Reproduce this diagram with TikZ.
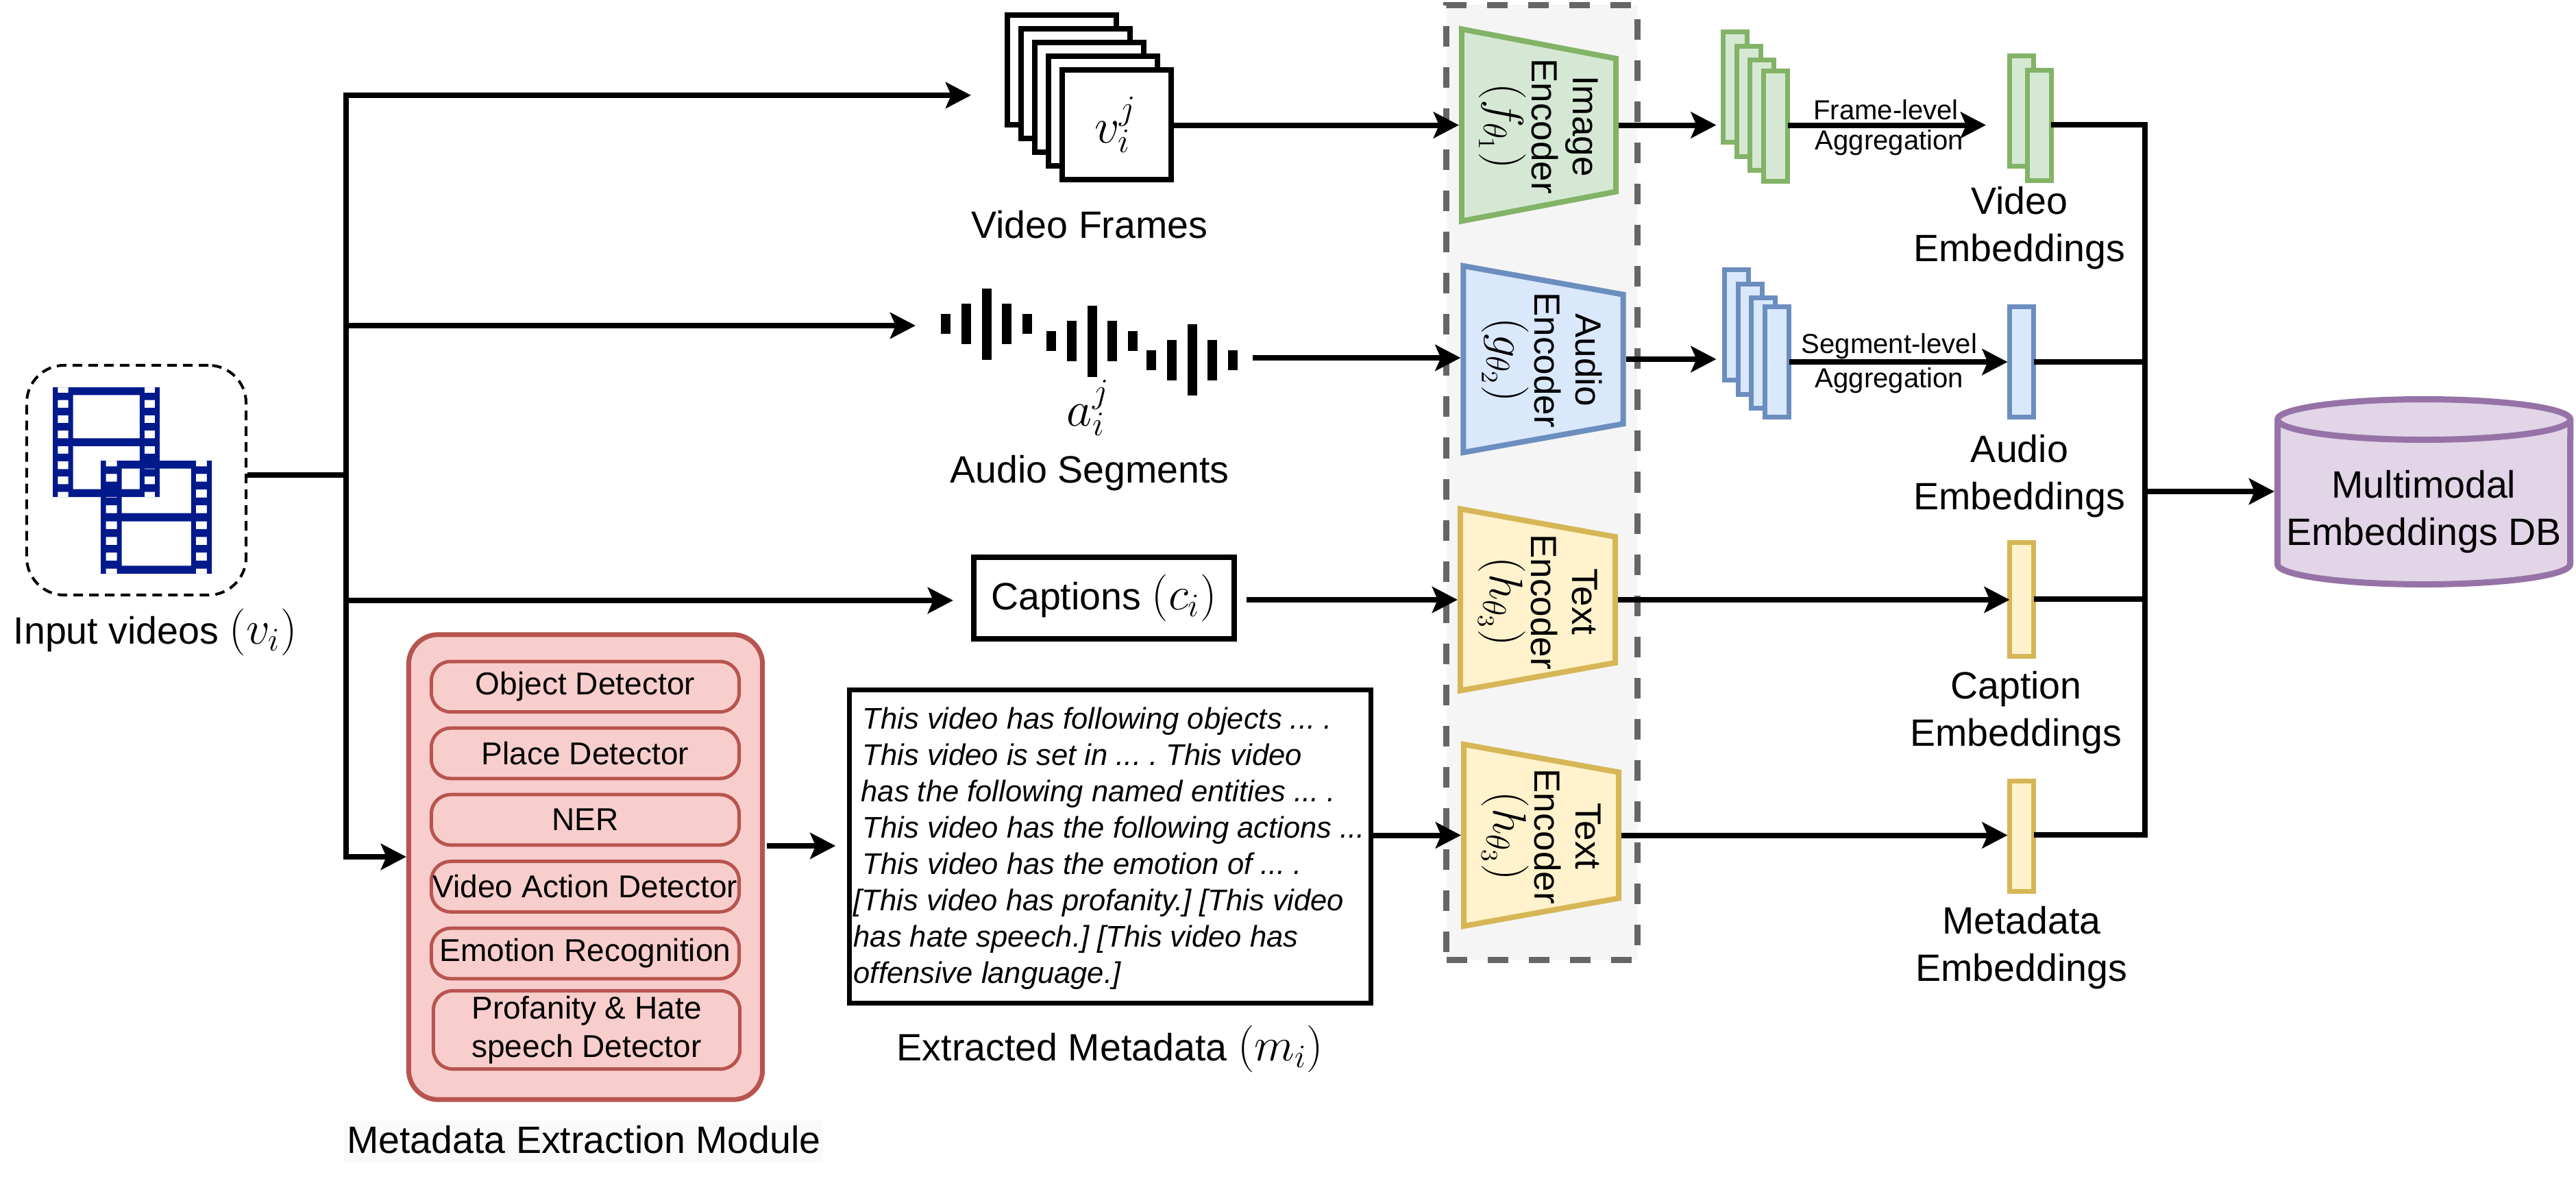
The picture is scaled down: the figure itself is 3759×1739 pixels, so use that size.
\documentclass[tikz,border=0pt]{standalone}
\usepackage{fix-cm}
\usepackage[no-math]{fontspec}
\setmainfont{Liberation Sans}
\usetikzlibrary{arrows.meta,shapes.geometric}
\definecolor{filmblue}{HTML}{001A8C}
\definecolor{grnline}{HTML}{82B366}\definecolor{grnfill}{HTML}{D5E8D4}
\definecolor{blueline}{HTML}{6C8EBF}\definecolor{bluefill}{HTML}{DAE8FC}
\definecolor{yelline}{HTML}{D6B656}\definecolor{yelfill}{HTML}{FFF2CC}
\definecolor{redline}{HTML}{B85450}\definecolor{redfill}{HTML}{F8CECC}
\definecolor{purline}{HTML}{9673A6}\definecolor{purfill}{HTML}{E1D5E7}
\def\mainfs{\fontsize{15.8}{19.6}\selectfont}
\def\encfs{\fontsize{15.1}{17}\selectfont}
\def\smallfs{\fontsize{11.4}{14}\selectfont}
\def\modfs{\fontsize{13.1}{15.9}\selectfont}
\def\metafs{\fontsize{12.38}{15.08}\selectfont\frenchspacing}
\def\bigmath{\fontsize{20.5}{24}\selectfont}
\newcommand\lmath[1]{{\fontsize{19.5}{19.5}\selectfont$#1$}}
% film strip: left, top, width, height
\newcommand\filmicon[4]{
	\begin{scope}[shift={(#1,#2)},x=#3,y=-#4]
		\fill[filmblue,even odd rule] (0,0) rectangle (1,1)
			(.189,.071) rectangle (.813,.464)
			(.189,.536) rectangle (.813,.929)
			foreach \ya/\yb in {0/.05,.117/.186,.255/.326,.395/.464,.536/.605,.674/.745,.812/.883,.954/1}{
				(.047,\ya) rectangle (.145,\yb)
				(.857,\ya) rectangle (.956,\yb)
			};
	\end{scope}
}
\tikzset{
	line/.style={line width=.08cm},
	conn/.style={line width=.08cm,-{Stealth[length=.37cm,width=.38cm,inset=.08cm]}},
	lab/.style={font=\mainfs,inner sep=0,align=center},
	encoder/.style n args={2}{trapezium,draw=#1,fill=#2,line width=.08cm,rotate=-90,inner sep=0,
		trapezium angle=75,trapezium stretches=true},
	enctxt/.style={font=\encfs,rotate=-90,align=center,inner sep=0},
	featbox/.style n args={2}{draw=#1,fill=#2,line width=.07cm,minimum width=.35cm,minimum height=1.61cm,inner sep=0,outer sep=0,anchor=north west},
	modbox/.style={draw=redline,fill=redfill,line width=.05cm,rounded corners=.28cm,font=\modfs,align=center,inner sep=0,minimum width=4.49cm},
	framebox/.style={draw,fill=white,line width=.08cm,minimum width=1.59cm,minimum height=1.6cm,anchor=north west,inner sep=0,outer sep=0},
	dbshape/.style={draw=purline,fill=purfill,line width=.09cm}
}
\begin{document}
\begin{tikzpicture}[x=.01cm,y=-.01cm,line join=miter]
	\useasboundingbox (0,0) rectangle (3759,1739);
	% encoder group
	\node[draw=black!60,fill=black!4,line width=.09cm,dash pattern=on .3cm off .3cm,minimum width=2.78cm,minimum height=13.93cm,inner sep=0] (encgroup) at (2250,704) {};
	% input
	\node[draw,dash pattern=on .14cm off .09cm,line width=.04cm,rounded corners=.55cm,minimum width=3.2cm,minimum height=3.35cm,inner sep=0] (inbox) at (199,700.5) {};
	\filmicon{77}{565}{1.56cm}{1.60cm}
	\filmicon{147}{672}{1.62cm}{1.65cm}
	\node[lab,anchor=base west] (inlab) at (19,939) {Input videos \lmath{(v_i)}};
	% frames
	\foreach \k in {0,...,4}{
		\node[framebox] (frame\k) at (1470+20*\k,22+20*\k) {};
	}
	\node[inner sep=0,font=\bigmath] (framevar) at (1628,182) {$v_i^j$};
	\node[lab,anchor=base] (framelab) at (1590,347) {Video Frames};
	% audio wave
	\foreach \gx/\gy in {1380/472.5,1534/497.5,1680/525}{
		\foreach \k/\h in {0/14.5,1/29.5,2/52,3/29.5,4/14.5}{
			\fill (\gx+\k*29.8-7,\gy-\h) rectangle (\gx+\k*29.8+7,\gy+\h);
		}
	}
	\node[inner sep=0,font=\bigmath] (wavevar) at (1588,595) {$a_i^j$};
	\node[lab,anchor=base] (wavelab) at (1590,704) {Audio Segments};
	% captions
	\node[draw,line width=.08cm,minimum width=3.8cm,minimum height=1.19cm,font=\mainfs,inner sep=0] (capbox) at (1611,872.5) {Captions \lmath{(c_i)}};
	% metadata module
	\node[draw=redline,fill=redfill,line width=.07cm,rounded corners=.43cm,minimum width=5.16cm,minimum height=6.78cm,inner sep=0] (module) at (854.5,1265) {};
	\foreach \k/\y/\txt in {1/1001.8/Object Detector,2/1099/Place Detector,3/1196/NER,4/1293.5/Video Action Detector,5/1391/Emotion Recognition}{
		\node[modbox,minimum height=.735cm] (mod\k) at (854,\y) {\txt};
	}
	\node[modbox,minimum height=1.14cm,minimum width=4.47cm] (mod6) at (856,1502.5) {Profanity \& Hate\\speech Detector};
	\node[fill=black!2,minimum width=6.99cm,minimum height=.61cm,inner sep=0] (modbg) at (851.5,1665) {};
	\node[lab,anchor=base] (modlab) at (852,1682) {Metadata Extraction Module};
	% metadata text
	\node[draw,line width=.07cm,minimum width=7.6cm,minimum height=4.565cm,inner sep=0] (metabox) at (1620,1235) {};
	\node[anchor=north west,inner sep=0,align=left,font=\metafs\itshape] (metatxt) at (1245,1031) {%
		\hspace*{.13cm}This video has following objects ... .\\
		\hspace*{.13cm}This video is set in ... . This video\\
		\hspace*{.11cm}has the following named entities ... .\\
		\hspace*{.13cm}This video has the following actions ...\\
		\hspace*{.13cm}This video has the emotion of ... .\\
		{[}This video has profanity.] [This video\\
		has hate speech.] [This video has\\
		offensive language.]};
	\node[lab,anchor=base] (metalab) at (1620,1547) {Extracted Metadata \lmath{(m_i)}};
	% encoders
	\node[encoder={grnline}{grnfill},minimum width=2.8cm,minimum height=2.25cm] (imgenc) at (2245.5,182.5) {\phantom{M}};
	\node[enctxt] (imgtxt) at (2245,184) {Image\\Encoder\\\lmath{(f_{\theta_1})}};
	\node[encoder={blueline}{bluefill},minimum width=2.72cm,minimum height=2.33cm] (audenc) at (2252,524) {\phantom{M}};
	\node[enctxt] (audtxt) at (2250,525) {Audio\\Encoder\\\lmath{(g_{\theta_2})}};
	\node[encoder={yelline}{yelfill},minimum width=2.65cm,minimum height=2.26cm] (capenc) at (2244,875) {\phantom{M}};
	\node[enctxt] (captxt) at (2244,878) {Text\\Encoder\\\lmath{(h_{\theta_3})}};
	\node[encoder={yelline}{yelfill},minimum width=2.65cm,minimum height=2.26cm] (metaenc) at (2249,1218.5) {\phantom{M}};
	\node[enctxt] (metaenctxt) at (2249,1220) {Text\\Encoder\\\lmath{(h_{\theta_3})}};
	% features
	\foreach \k/\x/\y in {1/2514.5/46.5,2/2534.5/67,3/2553.5/87.5,4/2573.5/103}{
		\node[featbox={grnline}{grnfill}] (imgfeat\k) at (\x,\y) {};
	}
	\foreach \k/\x/\y in {1/2516.5/393.5,2/2536.5/414,3/2555.5/434.5,4/2575.5/447.5}{
		\node[featbox={blueline}{bluefill}] (audfeat\k) at (\x,\y) {};
	}
	\node[featbox={grnline}{grnfill}] (videmba) at (2932,81) {};
	\node[featbox={grnline}{grnfill}] (vidembb) at (2958,102.5) {};
	\node[featbox={blueline}{bluefill}] (audemb) at (2932.5,447.5) {};
	\node[featbox={yelline}{yelfill},minimum height=1.66cm] (capemb) at (2932.5,791) {};
	\node[featbox={yelline}{yelfill}] (metaemb) at (2932.5,1139) {};
	\node[lab] (vidlab) at (2947,333) {Video\\Embeddings};
	\node[lab] (audlab) at (2947,695) {Audio\\Embeddings};
	\node[lab] (caplab) at (2942,1040) {Caption\\Embeddings};
	\node[lab] (metaemblab) at (2950,1382.5) {Metadata\\Embeddings};
	\node[lab,font=\smallfs,anchor=center] (framelvl) at (2752,160) {Frame-level};
	\node[lab,font=\smallfs,anchor=center] (framelvlb) at (2757,208) {Aggregation};
	\node[lab,font=\smallfs,anchor=center] (seglvl) at (2757,505) {Segment-level};
	\node[lab,font=\smallfs,anchor=center] (seglvlb) at (2757,555) {Aggregation};
	% database
	\def\dbx{2.135cm} \def\dby{.295cm}
	\node[minimum width=4.27cm,minimum height=2.7cm,inner sep=0,outer sep=.045cm] (db) at (3537,717) {};
	\draw[dbshape] (3323.5,612) arc[start angle=180,end angle=0,x radius=\dbx,y radius=\dby] -- (3750.5,823) arc[start angle=0,end angle=-180,x radius=\dbx,y radius=\dby] -- cycle;
	\draw[dbshape] (3323.5,612) arc[start angle=180,end angle=360,x radius=\dbx,y radius=\dby];
	\node[lab] (dblab) at (3537,747) {Multimodal\\Embeddings DB};
	% connectors
	\coordinate (tvideo) at (505,139);
	\coordinate (taudio) at (505,475);
	\coordinate (tsplit) at (505,693);
	\coordinate (tcap) at (505,876);
	\coordinate (tmeta) at (505,1250);
	\coordinate (framesin) at (1417,139);
	\coordinate (wavesin) at (1336,475);
	\coordinate (wavesout) at (1828,522);
	\coordinate (modout) at (1119,1234);
	\coordinate (bustop) at (3130,182);
	\coordinate (busbot) at (3130,1218);
	\draw[line] (inbox.east |- tsplit) -- (tsplit);
	\draw[line,line cap=rect] (tvideo) -- (tmeta);
	\draw[conn] (tvideo) -- (framesin);
	\draw[conn] (taudio) -- (wavesin);
	\draw[conn,shorten >=.26cm] (tcap) -- (tcap -| capbox.west);
	\draw[conn] (tmeta) -- (tmeta -| module.west);
	\draw[conn,shorten >=.17cm] (modout) -- (modout -| metabox.west);
	\draw[conn] (frame4.east |- imgenc.south) -- (imgenc.south);
	\draw[conn] (wavesout) -- (wavesout -| audenc.south);
	\draw[conn,shorten <=.14cm] (capbox.east |- capenc.south) -- (capenc.south);
	\draw[conn] (capenc.north) -- (capenc.north -| capemb.west);
	\draw[conn] (metaenc.south -| metabox.east) -- (metaenc.south);
	\draw[conn,shorten >=.1cm] (imgenc.north) -- (imgenc.north -| imgfeat1.west);
	\draw[conn,shorten >=.12cm] (audenc.north) -- (audenc.north -| audfeat1.west);
	\draw[conn,shorten >=.34cm] (imgfeat4.east |- imgenc.north) -- (imgenc.north -| videmba.west);
	\draw[conn,shorten >=.03cm] (audfeat4.east) -- (audemb.west);
	\draw[conn,shorten >=.03cm] (metaenc.north) -- (metaenc.north -| metaemb.west);
	\draw[line] (vidembb.east |- bustop) -- (bustop) -- (busbot) -- (metaemb.east |- busbot);
	\draw[line] (audemb.east) -- (audemb.east -| bustop);
	\draw[line] (capemb.east) -- (capemb.east -| bustop);
	\draw[conn] (db.west -| bustop) -- (db.west);
\end{tikzpicture}
\end{document}
